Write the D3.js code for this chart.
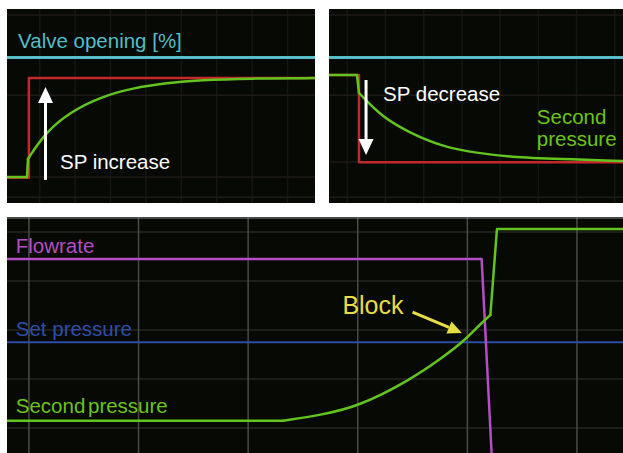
<!DOCTYPE html>
<html>
<head>
<meta charset="utf-8">
<script src="https://cdn.jsdelivr.net/npm/d3@7/dist/d3.min.js"></script>
<style>
  html, body { margin: 0; padding: 0; background: #ffffff; }
  svg { display: block; }
  text { font-family: "Liberation Sans", Arial, sans-serif; }
</style>
</head>
<body>
<svg id="chart" width="623" height="453"></svg>
<script>
// ---- Step response: set-point increase (time, %) ----
// first points: flat start and jump; the rest: smooth recovery
const upTime      = [0, 6.5, 6.8, 12.3, 20.5, 30.2, 40.9, 51.9, 62.7, 78.9, 100];
const upSecond    = [13.4, 13.4, 22.7, 36.1, 46.9, 54.6, 59.3, 61.9, 63.4, 64.2, 64.4];
const upSpTime    = [0, 7.1, 100];
const upSetpoint  = [13, 64.4, 64.4];
const upValve     = [75, 75];

// ---- Step response: set-point decrease (time, %) ----
const downTime     = [0, 9.5, 10.2, 18.4, 27.6, 38.8, 50.3, 61.6, 78.6, 100];
const downSecond   = [66, 66, 56.7, 43.8, 36.1, 28.9, 25.8, 23.7, 22.7, 21.6];
const downSpTime   = [0, 10.2, 100];
const downSetpoint = [66, 21, 21];
const downValve    = [75, 75];

// ---- Blocked outlet trend ----
const blockTime     = [-2, 23.2, 26.6, 30, 34.8, 37.8, 39.6, 41.3, 42.1, 42.7, 54.2];
const blockSecond   = [3, 3, 5.3, 8.6, 19.6, 29, 35.1, 42.9, 46.1, 81.2, 81.2];
const flowTime      = [-2, 41.3, 42.3];
const flowValues    = [69, 69, -18];
const setPressure   = [35, 35];

const svg = d3.select("#chart");
const BG = "#070904";
const C = {
  valve: "#55bec6", red: "#c4282a", green: "#62c41e", greenText: "#6cc41a",
  white: "#ffffff", magenta: "#b44ec4", blue: "#2e4ea6", yellow: "#e6de46"
};

function panel(id, x0, y0, x1, y1, xDom, yDom) {
  const g = svg.append("g");
  g.append("clipPath").attr("id", id)
    .append("rect").attr("x", x0).attr("y", y0).attr("width", x1 - x0).attr("height", y1 - y0);
  g.append("rect").attr("x", x0).attr("y", y0).attr("width", x1 - x0).attr("height", y1 - y0)
    .attr("fill", BG);
  const inner = g.append("g").attr("clip-path", `url(#${id})`);
  const x = d3.scaleLinear().domain(xDom).range([x0, x1]);
  const y = d3.scaleLinear().domain(yDom).range([y1, y0]);
  return { g: inner, x, y, x0, x1, y0, y1 };
}

function grid(p, xs, ys, vColor, hColor, w) {
  p.g.selectAll(null).data(xs).join("line")
    .attr("x1", d => p.x(d)).attr("x2", d => p.x(d))
    .attr("y1", p.y0).attr("y2", p.y1)
    .attr("stroke", vColor).attr("stroke-width", w);
  p.g.selectAll(null).data(ys).join("line")
    .attr("y1", d => p.y(d)).attr("y2", d => p.y(d))
    .attr("x1", p.x0).attr("x2", p.x1)
    .attr("stroke", hColor).attr("stroke-width", w);
}

function series(p, ts, vs, color, width, curve) {
  const pts = ts.map((t, i) => [t, vs[i]]);
  return p.g.append("path").datum(pts)
    .attr("d", d3.line().x(d => p.x(d[0])).y(d => p.y(d[1])).curve(curve || d3.curveLinear))
    .attr("fill", "none").attr("stroke", color).attr("stroke-width", width)
    .attr("stroke-linejoin", "round").attr("stroke-linecap", "round");
}

// a trace made of straight pieces up to index `k`, then a smooth curve from `k` to `m`,
// then straight pieces again
function trace(p, ts, vs, k, m, color, width) {
  series(p, ts.slice(0, k + 1), vs.slice(0, k + 1), color, width);
  series(p, ts.slice(k, m + 1), vs.slice(k, m + 1), color, width, d3.curveBasis);
  if (m < ts.length - 1) series(p, ts.slice(m), vs.slice(m), color, width);
}

function arrow(p, t0, v0, t1, v1, color, width, headLen, headW) {
  const xa = p.x(t0), ya = p.y(v0), xb = p.x(t1), yb = p.y(v1);
  const ang = Math.atan2(yb - ya, xb - xa);
  const bx = xb - headLen * Math.cos(ang), by = yb - headLen * Math.sin(ang);
  p.g.append("line").attr("x1", xa).attr("y1", ya).attr("x2", bx).attr("y2", by)
    .attr("stroke", color).attr("stroke-width", width);
  const nx = -Math.sin(ang) * headW / 2, ny = Math.cos(ang) * headW / 2;
  p.g.append("path")
    .attr("d", `M${xb},${yb}L${bx + nx},${by + ny}L${bx - nx},${by - ny}Z`)
    .attr("fill", color);
}

function label(p, t, v, str, color, size, anchor) {
  return p.g.append("text").attr("x", p.x(t)).attr("y", p.y(v))
    .attr("fill", color).attr("font-size", size).attr("text-anchor", anchor || "start")
    .text(str);
}

const topGridV = "#161714", topGridH = "#1c1a17";

// ---------- Set-point increase ----------
const pUp = panel("clipUp", 7, 9, 315, 203, [0, 100], [0, 100]);
grid(pUp, d3.range(10.6, 100, 11.5), [3, 13.4, 55.6, 96.9], topGridV, topGridH, 1.5);
series(pUp, [0, 100], upValve, C.valve, 3);
series(pUp, upSpTime, upSetpoint, C.red, 2.5, d3.curveStepAfter);
trace(pUp, upTime, upSecond, 2, upTime.length - 1, C.green, 2.5);
arrow(pUp, 12.5, 11.9, 12.5, 59.8, C.white, 3, 16, 15);
label(pUp, 3.6, 79.9, "Valve opening [%]", C.valve, 20.5);
label(pUp, 17.2, 17.5, "SP increase", C.white, 20.5);

// ---------- Set-point decrease ----------
const pDown = panel("clipDown", 329, 9, 623, 203, [0, 100], [0, 100]);
grid(pDown, d3.range(6.2, 100, 13), [3, 21.1, 55.6, 96.9], topGridV, topGridH, 1.5);
series(pDown, [0, 100], downValve, C.valve, 3);
series(pDown, downSpTime, downSetpoint, C.red, 2.5, d3.curveStepAfter);
trace(pDown, downTime, downSecond, 2, downTime.length - 1, C.green, 2.5);
arrow(pDown, 12.6, 63.4, 12.6, 24.7, C.white, 3, 16, 15);
label(pDown, 18.4, 52.6, "SP decrease", C.white, 20.5);
label(pDown, 70.7, 40.7, "Second", C.greenText, 20.5);
label(pDown, 70.7, 29.4, "pressure", C.greenText, 20.5);

// ---------- Blocked outlet ----------
const pBlock = panel("clipBlock", 7, 217, 623, 453, [-2, 54.2], [-10.2, 86.1]);
grid(pBlock, [], [0, 20, 40, 60, 80], "#4a4a48", "#262624", 1.5);
grid(pBlock, [0, 10, 20, 30, 40, 50], [], "#4a4a48", "#262624", 1.5);
pBlock.g.append("line").attr("x1", 7).attr("x2", 623).attr("y1", 218).attr("y2", 218)
  .attr("stroke", "#8a8a88").attr("stroke-width", 1);
series(pBlock, [-2, 54.2], setPressure, C.blue, 2);
series(pBlock, flowTime, flowValues, C.magenta, 2.5);
trace(pBlock, blockTime, blockSecond, 1, 8, C.green, 2.5);
arrow(pBlock, 35.0, 47.3, 39.5, 38.8, C.yellow, 3, 14, 13);
label(pBlock, -1.2, 71.4, "Flowrate", C.magenta, 20.5);
label(pBlock, -1.2, 37.6, "Set pressure", C.blue, 20.5);
label(pBlock, -1.2, 6.1, "Second pressure", C.greenText, 20.5).attr("word-spacing", "-3px");
label(pBlock, 28.6, 46.5, "Block", C.yellow, 25);
</script>
</body>
</html>
